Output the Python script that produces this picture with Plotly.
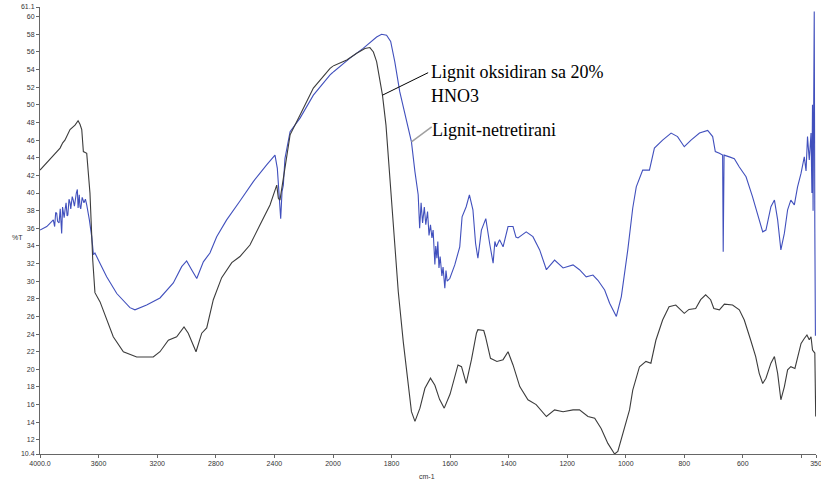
import plotly.graph_objects as go

# FTIR spectra of lignite: untreated vs. oxidised with 20% HNO3
# wavenumber (cm-1) and transmittance (%T)

wn_oxid = [4000, 3932, 3863, 3845, 3830, 3795, 3761, 3740, 3727, 3715, 3704, 3681,
           3659, 3640, 3625, 3590, 3545, 3500, 3431, 3340, 3227, 3181, 3124, 3067,
           3017, 2988, 2935, 2896, 2862, 2817, 2760, 2691, 2635, 2567, 2498, 2430,
           2384, 2373, 2362, 2350, 2328, 2293, 2225, 2134, 2020, 2000,
           1953, 1919, 1891, 1874, 1862, 1851, 1840, 1831, 1819, 1806, 1792, 1777,
           1760, 1743, 1732, 1720, 1703, 1686, 1667, 1652, 1636, 1620, 1600, 1573,
           1561, 1545, 1527, 1510, 1505, 1485, 1479, 1462, 1440, 1419, 1402, 1385,
           1362, 1334, 1306, 1271, 1243, 1214, 1180, 1158, 1129, 1106, 1084, 1061,
           1038, 1027, 1004, 987, 976, 953, 931, 914, 897, 874, 852, 829, 800, 784,
           761, 744, 727, 710, 699, 680, 663, 635, 612, 595, 573, 556, 544, 532,
           521, 504, 492, 481, 470, 458, 447, 436, 422, 413, 401, 390, 381, 373,
           367, 362, 354, 351]
t_oxid = [42.6, 43.8, 45.1, 45.7, 46.0, 47.2, 47.7, 48.2, 47.8, 47.2, 44.7, 44.5,
          40.0, 32.4, 28.7, 27.65, 25.6, 23.7, 22.0, 21.4, 21.4, 22.0, 23.3, 23.7,
          24.8, 24.1, 22.0, 24.1, 24.7, 27.9, 30.4, 32.1, 32.8, 34.1, 36.4, 38.65,
          40.9, 39.4, 39.2, 40.5, 43.2, 46.6, 48.85, 51.9, 54.15, 54.4,
          55.1, 55.85, 56.4, 56.5, 56.0, 54.9, 53.0, 51.1, 47.7, 42.05, 35.25, 28.8,
          23.15, 18.2, 15.2, 14.1, 15.6, 17.85, 19.0, 18.2, 16.6, 15.6, 17.2, 20.5,
          20.3, 18.4, 21.1, 24.1, 24.5, 24.4, 23.7, 21.25, 20.9, 21.1, 22.0, 20.5,
          18.05, 16.55, 16.0, 14.65, 15.4, 15.2, 15.4, 15.4, 14.65, 14.45, 13.3, 11.6,
          10.4, 10.7, 13.3, 15.4, 17.65, 20.3, 20.9, 20.7, 23.3, 25.6, 27.1, 27.3, 26.35, 26.8,
          26.9, 27.9, 28.45, 27.9, 26.9, 26.75, 27.4, 27.3, 26.75, 25.6, 23.3, 21.45, 19.55, 18.4,
          19.0, 20.7, 21.45, 19.55, 16.55, 18.05, 19.95, 20.3, 20.1, 21.45, 22.95, 23.5, 23.9, 23.35,
          23.7, 22.2, 21.85, 14.65]

wn_raw = [4000, 3954, 3909, 3900, 3893, 3886, 3880, 3870, 3862, 3856, 3852, 3846,
          3835, 3829, 3822, 3815, 3810, 3802, 3795, 3790, 3780, 3773, 3765, 3752,
          3745, 3740, 3732, 3727, 3722, 3712, 3704, 3700, 3690, 3681, 3663, 3647,
          3635, 3625, 3590, 3545, 3476, 3386,
          3352, 3272, 3181, 3090, 3033, 2999, 2965, 2930, 2885, 2840, 2794, 2726,
          2635, 2544, 2453, 2396, 2380, 2367, 2357, 2348, 2339, 2328, 2293, 2225,
          2134, 2020, 2000,
          1942, 1897, 1868, 1851, 1834, 1817, 1803, 1789, 1772, 1749, 1732, 1720,
          1709, 1704, 1699, 1694, 1688, 1683, 1677, 1672, 1667, 1662, 1658, 1652,
          1649, 1645, 1642, 1638, 1634, 1628, 1624, 1618, 1614, 1610,
          1601, 1584, 1567, 1559, 1545, 1534, 1522, 1513, 1505, 1493, 1478, 1465,
          1453, 1447, 1442, 1431, 1419, 1402, 1385, 1375, 1368, 1340, 1317, 1294,
          1271, 1243, 1214, 1180, 1158, 1135, 1112, 1095, 1072, 1055, 1032, 1015,
          993, 976, 964, 942, 919, 902, 874, 845, 823, 800, 777, 748, 720, 703,
          694, 680, 669, 667, 664, 646, 629, 612, 589, 567, 544, 532, 521, 504,
          492, 481, 470, 458, 447, 436, 424, 413, 401, 390, 384, 379, 373, 367,
          364, 362, 360, 358, 356, 354, 352]
t_raw = [35.8, 36.2, 36.95, 36.2, 37.8, 37.7, 36.8, 36.6, 38.2, 36.2, 35.4, 38.4,
         37.2, 38.1, 38.9, 37.4, 37.5, 39.3, 38.9, 38.2, 39.6, 39.2, 38.5, 40.0,
         40.4, 38.3, 39.8, 38.45, 38.2, 39.5, 39.2, 38.9, 39.3, 38.65, 36.95, 35.05,
         33.0, 33.2, 32.0, 30.5, 28.6, 27.0,
         26.75, 27.3, 28.1, 29.8, 31.65, 32.3, 31.3, 30.3, 32.2, 33.2, 35.05, 36.95,
         39.1, 41.3, 43.2, 44.3, 42.8, 39.4, 37.1, 40.15, 40.9, 43.9, 46.95, 48.5,
         51.1, 53.4, 53.7,
         55.3, 56.4, 57.2, 57.7, 58.0, 57.9, 57.2, 54.9, 51.5, 48.1, 45.8, 42.4,
         39.8, 36.0, 38.9, 36.6, 38.4, 36.4, 37.9, 35.2, 36.4, 34.9, 35.8, 31.9,
         34.0, 32.6, 34.5, 31.5, 32.8, 30.6, 31.6, 29.2, 31.2, 30.0,
         30.3, 31.85, 33.9, 37.3, 38.45, 39.8, 38.1, 34.3, 32.6, 35.8, 37.1, 34.3,
         32.05, 34.5, 33.9, 34.7, 33.9, 36.2, 36.2, 35.0, 34.9, 35.6, 35.05, 33.55,
         31.3, 32.4, 31.5, 31.85, 31.3, 30.5, 30.7, 30.1, 29.0, 27.5, 26.0, 28.25,
         33.55, 38.3, 40.7, 42.6, 42.6, 45.1, 46.0, 46.8, 46.4, 45.25, 46.0, 46.8, 47.1, 46.4,
         44.7, 44.5, 44.3, 33.35, 44.3, 44.1, 43.9, 42.95, 41.85, 39.6, 36.95, 35.6, 35.8, 38.45,
         39.2, 36.95, 33.55, 35.45, 38.1, 39.2, 38.65, 40.7, 42.25, 44.1, 42.5, 46.4, 43.75, 46.8,
         40.0, 50.0, 38.0, 52.0, 60.6, 36.0, 23.8]

# The wavenumber axis changes scale at 2000 cm-1 (expanded below it)
BREAK = 2000
x_ticks_hi = [4000, 3600, 3200, 2800, 2400, 2000]
x_labels_hi = ["4000.0", "3600", "3200", "2800", "2400", "2000"]
x_ticks_lo = [1800, 1600, 1400, 1200, 1000, 800, 600, 400, 350]
x_labels_lo = ["1800", "1600", "1400", "1200", "1000", "800", "600", "", "350"]
y_ticks = [10.4] + list(range(12, 61, 2)) + [61.1]
y_labels = [str(v) for v in y_ticks]

BLACK = "#3c3c3c"
BLUE = "#4150bd"


def split(wn, t):
    hi = [(w, v) for w, v in zip(wn, t) if w >= BREAK]
    lo = [(w, v) for w, v in zip(wn, t) if w <= BREAK]
    return ([p[0] for p in hi], [p[1] for p in hi]), ([p[0] for p in lo], [p[1] for p in lo])


fig = go.Figure()
for wn, t, color, name in [(wn_raw, t_raw, BLUE, "Lignit-netretirani"),
                           (wn_oxid, t_oxid, BLACK, "Lignit oksidiran sa 20% HNO3")]:
    (xh, yh), (xl, yl) = split(wn, t)
    fig.add_trace(go.Scatter(x=xh, y=yh, mode="lines", xaxis="x", yaxis="y",
                             line=dict(color=color, width=1.1), name=name))
    fig.add_trace(go.Scatter(x=xl, y=yl, mode="lines", xaxis="x2", yaxis="y",
                             line=dict(color=color, width=1.1), name=name))

split_frac = (333 - 40) / 776
tick_font = dict(family="Liberation Sans", size=7, color="#333")
axis_common = dict(showgrid=False, zeroline=False, showline=True, linecolor="#666",
                   linewidth=1, ticks="outside", ticklen=3, tickcolor="#666",
                   tickfont=tick_font, automargin=False, ticklabeloverflow="allow")

fig.update_layout(
    width=821, height=482,
    margin=dict(l=40, r=5, t=7, b=28),
    paper_bgcolor="white", plot_bgcolor="white",
    showlegend=False,
    xaxis=dict(domain=[0, split_frac], range=[4000, BREAK], anchor="y",
               tickmode="array", tickvals=x_ticks_hi, ticktext=x_labels_hi, **axis_common),
    xaxis2=dict(domain=[split_frac, 1], range=[BREAK, 350], anchor="y",
                tickmode="array", tickvals=x_ticks_lo, ticktext=x_labels_lo, **axis_common),
    yaxis=dict(range=[10.4, 61.1], tickmode="array", tickvals=y_ticks, ticktext=y_labels,
               **axis_common),
)

label_font = dict(family="Liberation Serif", size=18, color="black")
fig.add_annotation(x=1673, y=53.7, xref="x2", yref="y", text="Lignit oksidiran sa 20%",
                   showarrow=False, xanchor="left", yanchor="middle", font=label_font)
fig.add_annotation(x=1673, y=51.0, xref="x2", yref="y", text="HNO3",
                   showarrow=False, xanchor="left", yanchor="middle", font=label_font)
fig.add_annotation(x=1670, y=47.2, xref="x2", yref="y", text="Lignit-netretirani",
                   showarrow=False, xanchor="left", yanchor="middle", font=label_font)

# leader lines from the labels to the curves
fig.add_shape(type="line", xref="x2", yref="y", x0=1831, y0=51.1, x1=1675, y1=53.65,
              line=dict(color="black", width=1))
fig.add_shape(type="line", xref="x2", yref="y", x0=1732, y0=45.8, x1=1663, y1=47.5,
              line=dict(color="#a0a0a0", width=1.5))

# axis titles
fig.add_annotation(x=-0.039, y=35.0, xref="paper", yref="y", text="%T", showarrow=False,
                   font=dict(family="Liberation Sans", size=7, color="#333"))
fig.add_annotation(x=(427 - 40) / 776, y=-22 / 447, xref="paper", yref="paper", text="cm-1",
                   showarrow=False, yanchor="middle",
                   font=dict(family="Liberation Sans", size=7, color="#333"))

fig.write_html("out.html")
